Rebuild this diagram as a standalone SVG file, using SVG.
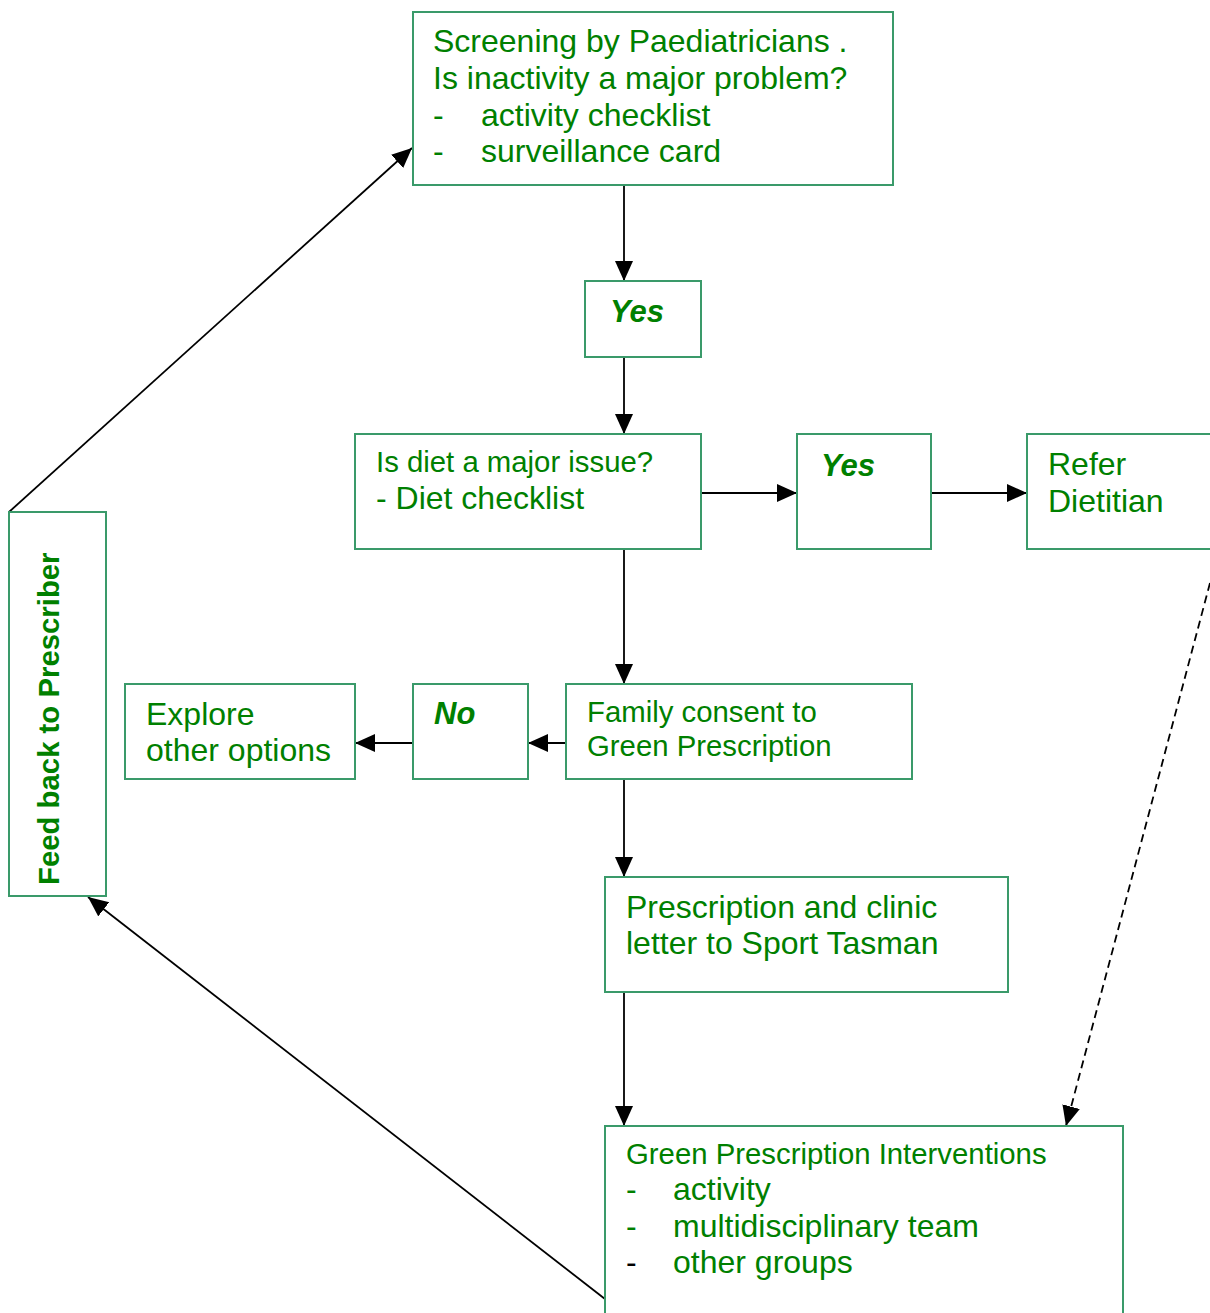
<svg xmlns="http://www.w3.org/2000/svg" width="1210" height="1313" viewBox="0 0 1210 1313">
<defs>
<marker id="ah" markerUnits="userSpaceOnUse" markerWidth="22" markerHeight="20" refX="20" refY="9" orient="auto">
<path d="M0,0 L20,9 L0,18 z" fill="#000"/>
</marker>
<style>
.box{fill:#fff;stroke:#3a9a6a;stroke-width:2}
.t{font-family:"Liberation Sans",Arial,sans-serif;fill:#008000}
.l{font-size:32px}
.s{font-size:29.33px}
.yn{font-size:31px;font-weight:bold;font-style:italic}
.fb{font-size:29.33px;font-weight:bold}
.c{stroke:#000;stroke-width:1.8;fill:none}
</style>
</defs>
<rect width="1210" height="1313" fill="#fff"/>
<g id="connectors">
<line class="c" x1="624" y1="185" x2="624" y2="281" marker-end="url(#ah)"/>
<line class="c" x1="624" y1="357" x2="624" y2="434" marker-end="url(#ah)"/>
<line class="c" x1="701" y1="493" x2="797" y2="493" marker-end="url(#ah)"/>
<line class="c" x1="931" y1="493" x2="1027" y2="493" marker-end="url(#ah)"/>
<line class="c" x1="624" y1="549" x2="624" y2="684" marker-end="url(#ah)"/>
<line class="c" x1="566" y1="743" x2="528" y2="743" marker-end="url(#ah)"/>
<line class="c" x1="413" y1="743" x2="355" y2="743" marker-end="url(#ah)"/>
<line class="c" x1="624" y1="779" x2="624" y2="877" marker-end="url(#ah)"/>
<line class="c" x1="624" y1="992" x2="624" y2="1126" marker-end="url(#ah)"/>
<line class="c" x1="1210" y1="583" x2="1066" y2="1126" stroke-dasharray="8,5" marker-end="url(#ah)"/>
<line class="c" x1="605" y1="1299" x2="88" y2="897" marker-end="url(#ah)"/>
<line class="c" x1="9" y1="512" x2="412" y2="148" marker-end="url(#ah)"/>
</g>
<g id="screening">
<rect class="box" x="413" y="12" width="480" height="173"/>
<text class="t l" x="433" y="52">Screening by Paediatricians .</text>
<text class="t l" x="433" y="89">Is inactivity a major problem?</text>
<text class="t l" x="433" y="126">-</text>
<text class="t l" x="481" y="126">activity checklist</text>
<text class="t l" x="433" y="162">-</text>
<text class="t l" x="481" y="162">surveillance card</text>
</g>
<g id="yes1">
<rect class="box" x="585" y="281" width="116" height="76"/>
<text class="t yn" x="610" y="322">Yes</text>
</g>
<g id="diet">
<rect class="box" x="355" y="434" width="346" height="115"/>
<text class="t s" x="376" y="472">Is diet a major issue?</text>
<text class="t l" x="376" y="509">- Diet checklist</text>
</g>
<g id="yes2">
<rect class="box" x="797" y="434" width="134" height="115"/>
<text class="t yn" x="821" y="476">Yes</text>
</g>
<g id="dietitian">
<rect class="box" x="1027" y="434" width="190" height="115"/>
<text class="t l" x="1048" y="475">Refer</text>
<text class="t l" x="1048" y="512">Dietitian</text>
</g>
<g id="family">
<rect class="box" x="566" y="684" width="346" height="95"/>
<text class="t s" x="587" y="722">Family consent to</text>
<text class="t s" x="587" y="756">Green Prescription</text>
</g>
<g id="no">
<rect class="box" x="413" y="684" width="115" height="95"/>
<text class="t yn" x="434" y="724">No</text>
</g>
<g id="explore">
<rect class="box" x="125" y="684" width="230" height="95"/>
<text class="t l" x="146" y="725">Explore</text>
<text class="t l" x="146" y="761">other options</text>
</g>
<g id="prescription">
<rect class="box" x="605" y="877" width="403" height="115"/>
<text class="t l" x="626" y="918">Prescription and clinic</text>
<text class="t l" x="626" y="954">letter to Sport Tasman</text>
</g>
<g id="interventions">
<rect class="box" x="605" y="1126" width="518" height="200"/>
<text class="t s" x="626" y="1164">Green Prescription Interventions</text>
<text class="t l" x="626" y="1200">-</text>
<text class="t l" x="673" y="1200">activity</text>
<text class="t l" x="626" y="1237">-</text>
<text class="t l" x="673" y="1237">multidisciplinary team</text>
<text class="t l" x="626" y="1273" style="fill:#000">-</text>
<text class="t l" x="673" y="1273">other groups</text>
</g>
<g id="feedback">
<rect class="box" x="9" y="512" width="97" height="384"/>
<text class="t fb" x="59" y="885" transform="rotate(-90 59 885)">Feed back to Prescriber</text>
</g>
</svg>
